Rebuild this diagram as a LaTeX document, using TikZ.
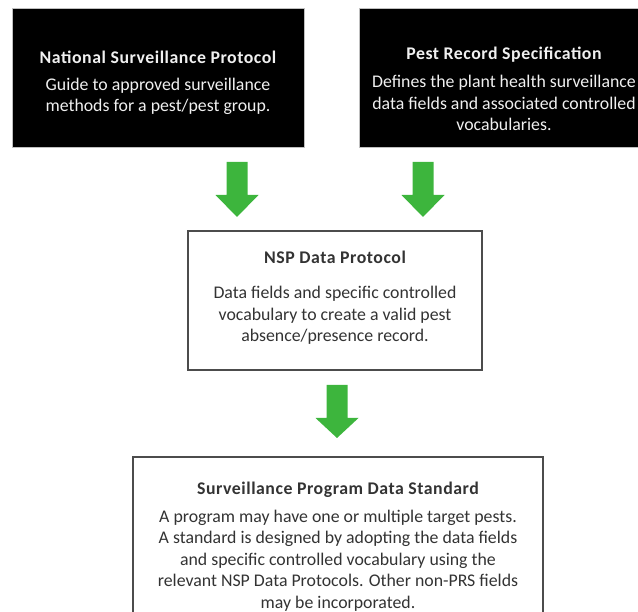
\documentclass[tikz,border=0pt]{standalone}
\usepackage{fontspec}
\setmainfont{Carlito}
\newfontfamily\titlefont{Carlito}[LetterSpace=3]
\begin{document}
\begin{tikzpicture}[x=1pt,y=-1pt,
  darkbox/.style={draw=black!25,line width=0.8pt,fill=black},
  lightbox/.style={draw=black!70,line width=1.2pt,fill=white},
  txt/.style={align=center,anchor=base,inner sep=0pt,font=\fontsize{17.8}{21.5}\selectfont},
  arrowfill/.style={fill=arrowgreen},
]
\definecolor{arrowgreen}{HTML}{3DB53D}
\definecolor{textgray}{HTML}{333333}
\useasboundingbox (0,0) rectangle (638,612);
\begin{scope}
\clip (0,0) rectangle (638,612);
% boxes
\path[darkbox] (12,8) rectangle (304,147);
\node[inner sep=0pt] (nsp) at (158,77.5) {};
\path[darkbox] (359,8) rectangle (649,147);
\node[inner sep=0pt] (prs) at (504,77.5) {};
\path[lightbox] (188,231) rectangle (482,370);
\node[inner sep=0pt] (dp) at (335,300) {};
\path[lightbox] (133,457) rectangle (543,625);
\node[inner sep=0pt] (sp) at (338,540) {};
% texts (anchored at the baseline of the last line)
\node[txt,text=white!94!black] (nsptxt) at (158,112) {{\titlefont\bfseries National Surveillance Protocol}\\[5.5pt]Guide to approved surveillance\\methods for a pest/pest group.};
\node[txt,text=white!94!black] (prstxt) at (504,131) {{\titlefont\bfseries Pest Record Specification}\\[6.5pt]Defines the plant health surveillance\\data fields and associated controlled\\vocabularies.};
\node[txt,text=textgray] (dptxt) at (335,342) {{\titlefont\bfseries NSP Data Protocol}\\[13.5pt]Data fields and specific controlled\\vocabulary to create a valid pest\\absence/presence record.};
\node[txt,text=textgray] (sptxt) at (338,608) {{\titlefont\bfseries Surveillance Program Data Standard}\\[6.5pt]A program may have one or multiple target pests.\\A standard is designed by adopting the data fields\\and specific controlled vocabulary using the\\relevant NSP Data Protocols. Other non-PRS fields\\may be incorporated.};
% block arrows
\coordinate (a1) at (237,162);
\coordinate (a2) at (423,162);
\coordinate (a3) at (337,385);
\foreach \c/\h/\t in {a1/33/55,a2/33/55,a3/33/53}{
  \fill[arrowfill,shift={(\c)}] (-10.5,0) -- (10.5,0) -- (10.5,\h) -- (21.5,\h) -- (0,\t) -- (-21.5,\h) -- (-10.5,\h) -- cycle;
}
\end{scope}
\end{tikzpicture}
\end{document}
